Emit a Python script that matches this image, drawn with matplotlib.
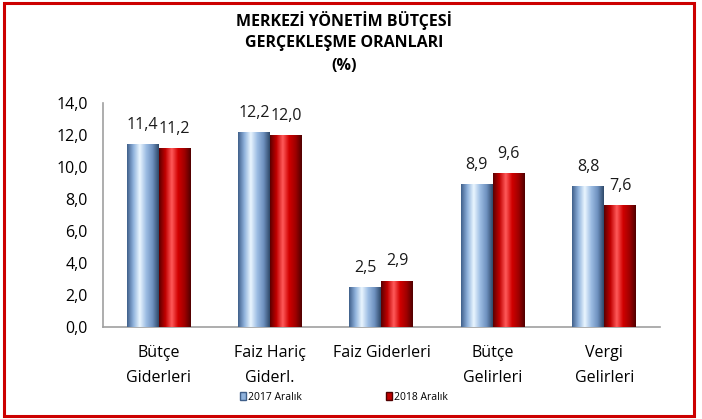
import matplotlib.pyplot as plt
import numpy as np
from matplotlib.colors import LinearSegmentedColormap
from matplotlib.patches import Rectangle, Patch

categories = ["Bütçe\nGiderleri", "Faiz Hariç\nGiderl.", "Faiz Giderleri", "Bütçe\nGelirleri", "Vergi\nGelirleri"]
values_2017 = [11.4, 12.2, 2.5, 8.9, 8.8]
values_2018 = [11.2, 12.0, 2.9, 9.6, 7.6]
series_names = ["2017 Aralık", "2018 Aralık"]
y_ticks = [0, 2, 4, 6, 8, 10, 12, 14]

plt.rcParams['font.family'] = ['Open Sans', 'DejaVu Sans']

# cylinder-ish shading for the bars
blue_cmap = LinearSegmentedColormap.from_list(
    "blue_cyl", ["#3f5f8a", "#8fb2dc", "#eaf6ff", "#9dbde3", "#6f92c0", "#2e4868"])
red_cmap = LinearSegmentedColormap.from_list(
    "red_cyl", ["#5a0000", "#c00000", "#ff5a5a", "#d00000", "#a00000", "#500000"])

fig = plt.figure(figsize=(7.02, 4.19), dpi=100)
ax = fig.add_axes([0.1467, 0.2196, 0.7934, 0.535])

x = np.arange(len(categories))
w = 0.287
bars1 = ax.bar(x - w / 2, values_2017, w, color="#8fb2dc", zorder=2)
bars2 = ax.bar(x + w / 2, values_2018, w, color="#c00000", zorder=2)

grad = np.linspace(0, 1, 256).reshape(1, -1)
for bars, cmap in ((bars1, blue_cmap), (bars2, red_cmap)):
    for b in bars:
        x0, h = b.get_x(), b.get_height()
        im = ax.imshow(grad, cmap=cmap, aspect="auto", zorder=3,
                       extent=(x0, x0 + b.get_width(), 0, h))
        im.set_clip_path(b)

for bars, vals in ((bars1, values_2017), (bars2, values_2018)):
    for b, v in zip(bars, vals):
        ax.annotate(f"{v:.1f}".replace(".", ","),
                    (b.get_x() + b.get_width() / 2, v),
                    xytext=(0, 8), textcoords="offset points",
                    ha="center", va="bottom", fontsize=11.5, color="#1a1a1a")

ax.set_xlim(-0.5, len(categories) - 0.5)
ax.set_ylim(0, 14)
ax.set_yticks(y_ticks)
ax.set_yticklabels([f"{t:.1f}".replace(".", ",") for t in y_ticks], fontsize=11.5)
ax.set_xticks(x)
ax.set_xticklabels(categories, fontsize=11.5, linespacing=1.75)
ax.tick_params(axis="x", length=0, pad=13)
ax.tick_params(axis="y", length=0, pad=11)
for s in ("top", "right"):
    ax.spines[s].set_visible(False)
for s in ("left", "bottom"):
    ax.spines[s].set_color("#a0a0a0")
    ax.spines[s].set_linewidth(1.2)

fig.text(0.49, 0.952, "MERKEZİ YÖNETİM BÜTÇESİ", ha="center", va="center",
         fontsize=11.5, fontweight="bold")
fig.text(0.49, 0.898, "GERÇEKLEŞME ORANLARI", ha="center", va="center",
         fontsize=11.5, fontweight="bold")
fig.text(0.49, 0.842, "(%)", ha="center", va="center",
         fontsize=11.5, fontweight="bold")

handles = [Patch(facecolor="#8fb2dc", edgecolor="#3f5f8a"),
           Patch(facecolor="#c00000", edgecolor="#500000")]
fig.legend(handles, series_names, loc="center", bbox_to_anchor=(0.49, 0.052),
           ncol=2, frameon=False, fontsize=7.5, handlelength=0.6, handleheight=0.8,
           handletextpad=0.2, columnspacing=8)

fig.patches.append(Rectangle((0.005, 0.006), 0.984, 0.986, transform=fig.transFigure,
                             fill=False, edgecolor="#cc0000", linewidth=2.2))

fig.savefig("out.png", dpi=100)
